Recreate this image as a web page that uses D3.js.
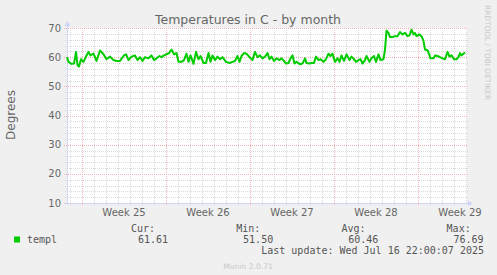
<!DOCTYPE html>
<html>
<head>
<meta charset="utf-8">
<script src="https://cdn.jsdelivr.net/npm/d3@7"></script>
<style>
  body { margin: 0; background: #f0f0f0; }
  text { font-family: "DejaVu Sans", sans-serif; fill: #666; }
  .mono { font-family: "DejaVu Sans Mono", monospace; font-size: 10px; fill: #555; }
</style>
</head>
<body>
<svg id="chart" width="497" height="275"></svg>
<script>
// time range of the month graph (2h per pixel, 400 px)
let startTime = Date.UTC(2025, 5, 13, 18, 0)
let spanHours = 800

// hours since startTime, and temperature (C)
let hours = [0,3,9,14,18,21,24,28,33,38,43,47,53,59,66,73,79,86,93,99,106,114,118,123,129,136,141,146,151,156,
  163,169,174,179,185,189,194,199,204,209,214,219,223,229,234,239,243,247,253,258,263,267,273,278,283,287,291,296,301,306,
  311,318,325,331,336,341,345,349,354,359,365,371,376,381,386,391,396,401,405,409,414,419,425,429,434,438,443,447,451,455,
  459,466,471,476,479,485,489,494,498,503,507,513,518,523,527,531,536,541,545,549,554,559,565,569,574,578,583,587,591,596,
  599,605,609,614,618,623,627,633,636,639,643,646,651,656,661,666,671,676,681,685,689,693,696,699,705,709,713,716,721,725,
  727,733,736,741,746,751,756,761,765,769,774,779,783,786,789,793,796]
let temps = [60.0,58.4,57.7,57.8,61.8,57.3,56.8,59.3,58.4,60.2,61.8,60.6,61.2,58.7,62.3,61.0,59.3,60.2,59.0,58.7,58.7,60.6,61.0,59.0,60.2,60.6,59.0,60.0,58.7,60.0,
  59.6,60.6,59.0,59.6,60.4,60.0,60.6,61.0,61.4,62.6,61.0,61.4,58.4,58.4,59.0,61.2,58.4,60.6,57.7,61.8,59.3,60.4,58.0,58.0,61.4,58.4,60.6,59.0,60.2,59.3,
  60.0,58.4,58.0,58.4,58.7,60.4,58.4,60.4,61.4,61.2,60.0,59.0,61.8,60.0,60.6,59.6,60.2,61.4,59.3,60.2,58.7,59.6,59.0,59.6,58.7,57.8,58.0,59.6,60.6,57.8,
  58.4,57.6,57.8,59.6,58.0,57.8,58.0,58.0,60.2,59.0,59.3,58.4,59.3,61.2,60.4,61.2,58.4,59.6,58.4,60.6,58.7,61.0,59.0,60.2,59.3,58.4,59.0,59.3,57.8,59.0,
  60.4,58.4,59.6,60.4,58.4,61.0,59.0,59.3,62.6,69.1,68.3,66.9,66.9,67.2,67.2,68.6,67.8,68.3,67.2,67.5,69.4,67.8,68.3,67.2,67.8,67.2,65.6,62.6,62.4,60.6,
  59.6,59.6,60.6,60.4,60.0,59.6,59.3,61.8,60.2,60.6,59.3,59.3,60.0,61.4,60.6,61.2,61.61]

let yTicks = [10, 20, 30, 40, 50, 60, 70]
let weekLabels = ["Week 25", "Week 26", "Week 27", "Week 28", "Week 29"]
let legendHeads = ["Cur:", "Min:", "Avg:", "Max:"]
let legendValues = ["61.61", "51.50", "60.46", "76.69"]
let seriesName = "templ"

let svg = d3.select("#chart")
let x0 = 67, x1 = 467, y0 = 28, y1 = 203

let endTime = startTime + spanHours * 3600e3
let x = d3.scaleUtc().domain([new Date(startTime), new Date(endTime)]).range([x0, x1])
let y = d3.scaleLinear().domain([10, 70]).range([y1, y0])

let data = hours.map((h, i) => ({t: new Date(startTime + h * 3600e3), v: temps[i]}))

svg.append("rect").attr("width", 497).attr("height", 275).attr("fill", "#f0f0f0")
svg.append("rect").attr("x", x0).attr("y", y0).attr("width", x1 - x0).attr("height", y1 - y0).attr("fill", "#fff")

// minor grid
let days = d3.utcDay.range(x.domain()[0], x.domain()[1])
let weeks = d3.utcSunday.range(x.domain()[0], x.domain()[1])
let minorY = d3.range(12, 70, 2).filter(v => v % 10 != 0)
let minorCol = "#d9d9d9", majorCol = "#f2b4b4"
let grid = svg.append("g").attr("shape-rendering", "crispEdges")
grid.selectAll(".vmin").data(days.filter(d => d.getUTCDay() != 0)).enter().append("line")
	.attr("x1", d => Math.round(x(d)) + 0.5).attr("x2", d => Math.round(x(d)) + 0.5)
	.attr("y1", y0).attr("y2", y1 + 2)
	.attr("stroke", minorCol).attr("stroke-dasharray", "1,1")
grid.selectAll(".hmin").data(minorY).enter().append("line")
	.attr("x1", x0 - 2).attr("x2", x1 + 1)
	.attr("y1", d => Math.round(y(d)) + 0.5).attr("y2", d => Math.round(y(d)) + 0.5)
	.attr("stroke", minorCol).attr("stroke-dasharray", "1,1")
// major grid
grid.selectAll(".vmaj").data(weeks).enter().append("line")
	.attr("x1", d => Math.round(x(d)) + 0.5).attr("x2", d => Math.round(x(d)) + 0.5)
	.attr("y1", y0).attr("y2", y1 + 3)
	.attr("stroke", majorCol).attr("stroke-dasharray", "1,1")
grid.selectAll(".hmaj").data(yTicks).enter().append("line")
	.attr("x1", x0 - 3).attr("x2", x1 + 1)
	.attr("y1", d => Math.round(y(d)) + 0.5).attr("y2", d => Math.round(y(d)) + 0.5)
	.attr("stroke", majorCol).attr("stroke-dasharray", "1,1")

// axes with arrows
let axisCol = "#cfd6f8"
svg.append("line").attr("x1", x0 + 0.5).attr("x2", x0 + 0.5).attr("y1", y1 + 2).attr("y2", y0 - 3)
	.attr("stroke", axisCol)
svg.append("line").attr("x1", x0 - 2).attr("x2", x1 + 2).attr("y1", y1 + 0.5).attr("y2", y1 + 0.5)
	.attr("stroke", axisCol)
svg.append("path").attr("d", `M${x0 - 2.5},${y0 - 2}L${x0 + 3.5},${y0 - 2}L${x0 + 0.5},${y0 - 7}Z`).attr("fill", axisCol)
svg.append("path").attr("d", `M${x1 + 1},${y1 - 2.5}L${x1 + 1},${y1 + 3.5}L${x1 + 6},${y1 + 0.5}Z`).attr("fill", axisCol)

// data line
let line = d3.line().x(d => x(d.t)).y(d => y(d.v))
svg.append("path").datum(data).attr("d", line)
	.attr("fill", "none").attr("stroke", "#00cc00").attr("stroke-width", 2)
	.attr("stroke-linejoin", "round")

// tick labels
svg.selectAll(".ylab").data(yTicks).enter().append("text")
	.attr("x", 61).attr("y", d => y(d)).attr("dy", "0.36em")
	.attr("text-anchor", "end").style("font-size", "10px").text(d => d)
svg.selectAll(".xlab").data(weeks).enter().append("text")
	.attr("x", d => x(d3.utcHour.offset(d, 84))).attr("y", 216)
	.attr("text-anchor", "middle").style("font-size", "10px").text((d, i) => weekLabels[i])

// title and y label
svg.append("text").attr("x", 248).attr("y", 23.5).attr("text-anchor", "middle")
	.style("font-size", "12.5px").text("Temperatures in C - by month")
svg.append("text").attr("transform", "translate(15,115) rotate(-90)").attr("text-anchor", "middle")
	.style("font-size", "12px").text("Degrees")

// legend
svg.append("rect").attr("x", 14).attr("y", 236.5).attr("width", 6).attr("height", 6).attr("fill", "#00cc00")
svg.append("text").attr("class", "mono").attr("x", 27).attr("y", 242.5).text(seriesName)
legendHeads.forEach((h, i) => {
	svg.append("text").attr("class", "mono").attr("x", 131 + i * 105.2).attr("y", 231.5).text(h)
	svg.append("text").attr("class", "mono").attr("x", 168 + i * 105.2).attr("y", 242.5)
		.attr("text-anchor", "end").text(legendValues[i])
})
svg.append("text").attr("class", "mono").attr("x", 484).attr("y", 253.5).attr("text-anchor", "end")
	.text("Last update: Wed Jul 16 22:00:07 2025")

// watermarks
svg.append("text").attr("x", 248).attr("y", 269).attr("text-anchor", "middle")
	.style("font-size", "7.6px").style("fill", "#c8c8c8").text("Munin 2.0.71")
svg.append("text").attr("transform", "translate(485,5) rotate(90)")
	.style("font-size", "7.4px").style("fill", "#c8c8c8").text("RRDTOOL / TOBI OETIKER")
</script>
</body>
</html>
